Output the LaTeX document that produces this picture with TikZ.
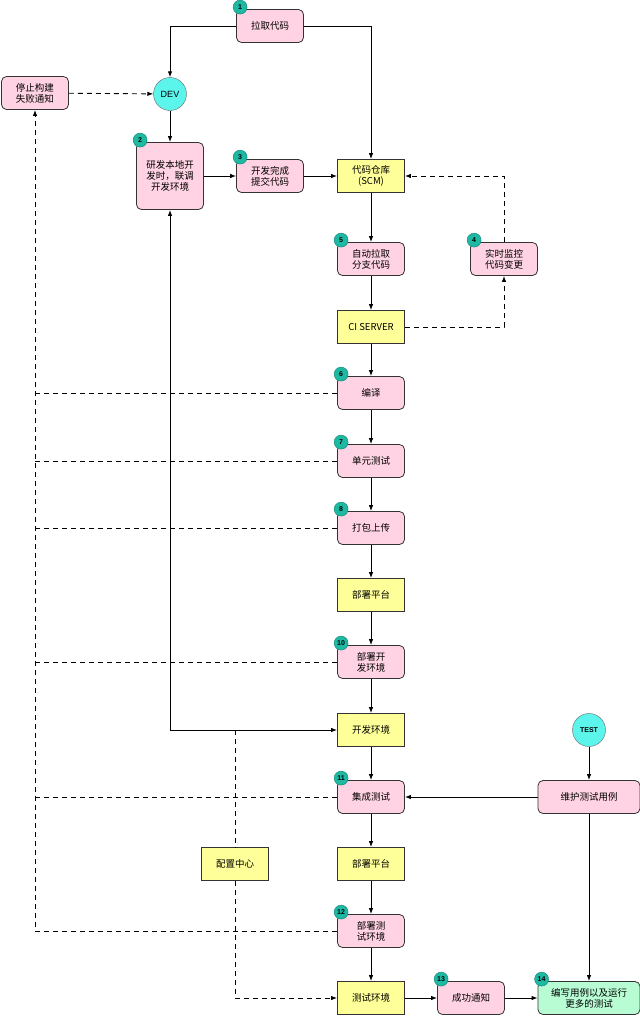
\documentclass[tikz,border=0pt]{standalone}
\usepackage{fontspec}
\setmainfont{Liberation Sans}
\newfontfamily\cjk{Noto Sans CJK SC}
\usetikzlibrary{arrows.meta,calc}
\definecolor{pk}{HTML}{FFD3E3}
\definecolor{yl}{HTML}{FFFF99}
\definecolor{cy}{HTML}{5CF5EC}
\definecolor{gr}{HTML}{B8FCD4}
\definecolor{tl}{HTML}{1DB9A3}
\begin{document}
\begin{tikzpicture}[x=1pt,y=-1pt,
 base/.style={draw=black!80,line width=0.8pt,minimum height=33pt,align=center,font=\cjk\fontsize{9.5}{11}\selectfont,inner sep=1pt},
 pb/.style={base,fill=pk,rounded corners=5pt,minimum width=67pt},
 yb/.style={base,fill=yl,minimum width=67pt},
 gb/.style={base,fill=gr,rounded corners=5pt,minimum width=102pt},
 cir/.style={circle,draw=black!60,fill=cy,minimum size=33pt,inner sep=0pt,font=\fontsize{9}{10}\selectfont},
 bd/.style={circle,fill=tl,draw=tl!70!black,minimum size=14pt,inner sep=0pt,font=\bfseries\fontsize{7}{8}\selectfont},
 ar/.style={line width=0.9pt,-{Latex[length=6pt,width=4.5pt]}},
 da/.style={line width=0.9pt,dash pattern=on 5pt off 4pt},
 daa/.style={da,-{Latex[length=6pt,width=4.5pt]}}]
\useasboundingbox (0,0) rectangle (640,1018);
\node[pb] (n1) at (270,26) {拉取代码};
\node[cir] (dev) at (170,94) {DEV};
\node[pb] (stop) at (35,93) {停止构建\\失败通知};
\node[pb,minimum height=67pt] (n2) at (170,176) {研发本地开\\发时，联调\\开发环境};
\node[pb] (n3) at (270,176) {开发完成\\提交代码};
\node[yb] (scm) at (371,176) {代码仓库\\(SCM)};
\node[pb] (n5) at (371,259) {自动拉取\\分支代码};
\node[pb] (n4) at (504,259) {实时监控\\代码变更};
\node[yb] (ci) at (371,327) {CI SERVER};
\node[pb] (n6) at (371,393) {编译};
\node[pb] (n7) at (371,461) {单元测试};
\node[pb] (n8) at (371,528) {打包上传};
\node[yb] (dp1) at (371,595) {部署平台};
\node[pb] (n10) at (371,662) {部署开\\发环境};
\node[yb] (dev2) at (371,730) {开发环境};
\node[pb] (n11) at (371,797) {集成测试};
\node[yb] (dp2) at (371,864) {部署平台};
\node[pb] (n12) at (371,931) {部署测\\试环境};
\node[yb] (te) at (371,998) {测试环境};
\node[yb] (cfg) at (235,864) {配置中心};
\node[cir,font=\bfseries\fontsize{7}{8}\selectfont] (test) at (589,730) {TEST};
\node[pb,minimum width=102pt] (mt) at (589,797) {维护测试用例};
\node[pb] (n13) at (471,998) {成功通知};
\node[gb] (n14) at (589,998) {编写用例以及运行\\更多的测试};
\foreach \n/\t in {n1/1,n2/2,n3/3,n5/5,n4/4,n6/6,n7/7,n8/8,n10/10,n11/11,n12/12,n13/13,n14/14}
  \node[bd] (b\t) at ($(\n.north west)+(4,-2)$) {\t};
% solid
\draw[ar] (n1.west) -| (dev.north);
\draw[ar] (n1.east) -| (scm.north);
\draw[ar] (dev) -- (n2);
\draw[ar] (n2) -- (n3);
\draw[ar] (n3) -- (scm);
\draw[ar] (scm) -- (n5);
\draw[ar] (n5) -- (ci);
\draw[ar] (ci) -- (n6);
\draw[ar] (n6) -- (n7);
\draw[ar] (n7) -- (n8);
\draw[ar] (n8) -- (dp1);
\draw[ar] (dp1) -- (n10);
\draw[ar] (n10) -- (dev2);
\draw[ar] (dev2) -- (n11);
\draw[ar] (n11) -- (dp2);
\draw[ar] (dp2) -- (n12);
\draw[ar] (n12) -- (te);
\draw[ar] (te) -- (n13);
\draw[ar] (n13) -- (n14);
\draw[ar] (test) -- (mt);
\draw[ar] (mt) -- (n11);
\draw[ar] (mt) -- (n14);
\draw[line width=0.9pt,{Latex[length=6pt,width=4.5pt]}-{Latex[length=6pt,width=4.5pt]}] (n2.south) |- (dev2.west);
% dashed
\draw[daa] (stop) -- (dev);
\draw[daa] (ci.east) -| (n4.south);
\draw[daa] (n4.north) |- (scm.east);
\coordinate (lb) at (35,931);
\draw[daa] (n12.west) -- (lb) -- (stop.south);
\foreach \n in {n6,n7,n8,n10,n11} \draw[da] (\n.west) -- (\n.west -| lb);
\coordinate (ct) at (235,730);
\draw[da] (ct) -- (cfg.north);
\draw[daa] (cfg.south) |- (te.west);
\end{tikzpicture}
\end{document}
